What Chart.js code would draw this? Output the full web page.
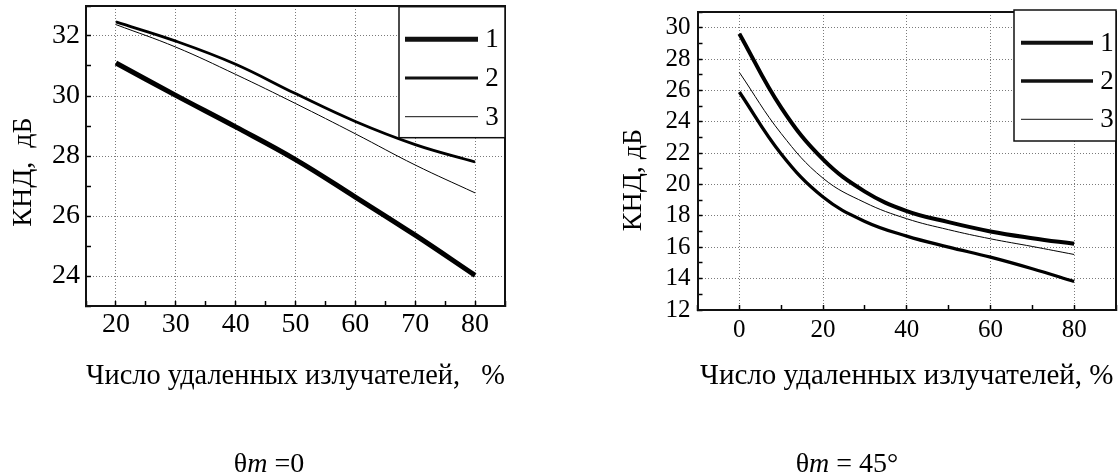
<!DOCTYPE html>
<html>
<head>
<meta charset="utf-8">
<script src="https://cdn.jsdelivr.net/npm/chart.js@4.4.1/dist/chart.umd.min.js"></script>
<style>
  body { margin: 0; background: #fff; }
  #wrap { position: relative; width: 1120px; height: 476px; overflow: hidden; }
  .box { position: absolute; top: 0; width: 560px; height: 476px; }
  .cap {
    position: absolute; top: 447px; line-height: 30px;
    font: 28px "Liberation Serif", "Times New Roman", serif;
    transform: translateX(-50%); white-space: pre; color: #000;
  }
</style>
</head>
<body>
<div id="wrap">
  <div class="box" style="left:0"><canvas id="chartLeft" width="560" height="476"></canvas></div>
  <div class="box" style="left:560px"><canvas id="chartRight" width="560" height="476"></canvas></div>
  <div class="cap" style="left:269px">θ<i>m</i> =0</div>
  <div class="cap" style="left:847px">θ<i>m</i> = 45°</div>
</div>
<script>
const SERIF = '"Liberation Serif", "Times New Roman", serif';

const seriesNames = ['1', '2', '3'];
const xTitle = 'Число удаленных излучателей,';

// θm = 0
const leftX = [20, 30, 40, 50, 60, 70, 80];
const left1 = [31.1, 30.02, 28.97, 27.88, 26.63, 25.36, 24.02];
const left2 = [32.47, 31.83, 31.06, 30.08, 29.15, 28.38, 27.8];
const left3 = [32.38, 31.63, 30.72, 29.75, 28.74, 27.7, 26.77];

// θm = 45°
const rightX = [0, 10, 20, 30, 40, 50, 60, 70, 80];
const right1 = [29.62, 24.9, 21.6, 19.55, 18.31, 17.6, 17.01, 16.58, 16.22];
const right2 = [25.9, 21.95, 19.2, 17.65, 16.71, 16.01, 15.37, 14.63, 13.82];
const right3 = [27.15, 23.25, 20.4, 18.85, 17.82, 17.12, 16.54, 16.05, 15.54];

const isMajor = (v, step) => Math.abs(v / step - Math.round(v / step)) < 1e-6;

// legend in a box in the upper right corner, axis title on the left, closed frame
const framePlugin = {
  id: 'frame',
  afterDraw(chart, args, o) {
    const { ctx, chartArea } = chart;
    ctx.save();
    ctx.strokeStyle = '#111';
    ctx.lineWidth = 2;
    ctx.beginPath();
    ctx.moveTo(chartArea.left, chartArea.top);
    ctx.lineTo(chartArea.right, chartArea.top);
    ctx.lineTo(chartArea.right, chartArea.bottom);
    ctx.stroke();

    const bx = chartArea.right - o.boxWidth;
    const by = chartArea.top + o.boxDy;
    ctx.fillStyle = '#fff';
    ctx.fillRect(bx, by, o.boxWidth, o.boxHeight);
    ctx.lineWidth = 1.5;
    ctx.strokeRect(bx, by, o.boxWidth, o.boxHeight);
    ctx.fillStyle = '#000';
    ctx.font = o.legendFont + 'px ' + SERIF;
    ctx.textAlign = 'center';
    ctx.textBaseline = 'middle';
    chart.data.datasets.forEach((ds, i) => {
      const ly = by + o.first + i * o.gap;
      ctx.beginPath();
      ctx.lineWidth = ds.borderWidth;
      ctx.moveTo(bx + o.lineFrom, ly);
      ctx.lineTo(bx + 79, ly);
      ctx.stroke();
      ctx.fillText(ds.label, bx + 93, ly + 1);
    });

    ctx.translate(o.yTitleX, o.yTitleY);
    ctx.rotate(-Math.PI / 2);
    ctx.font = '28px ' + SERIF;
    ctx.fillText(o.yTitle, 0, 0);
    ctx.restore();
  }
};

// keep the plot box where it is, whatever the tick labels want
function noPadding(s) {
  s.paddingTop = 0;
  s.paddingBottom = 0;
  s.paddingLeft = 0;
  s.paddingRight = 0;
}

function buildChart(id, opt) {
  const datasets = opt.series.map((values, i) => ({
    label: seriesNames[i],
    data: values.map((v, j) => ({ x: opt.xs[j], y: v })),
    borderColor: '#000',
    borderWidth: opt.widths[i],
    pointRadius: 0,
    tension: 0.4,
    fill: false
  }));

  const gridColor = (step) => (c) => isMajor(c.tick.value, step) ? '#7a7a7a' : 'rgba(0,0,0,0)';

  return new Chart(document.getElementById(id), {
    type: 'line',
    data: { datasets },
    plugins: [framePlugin],
    options: {
      responsive: false,
      animation: false,
      layout: { padding: opt.padding },
      plugins: {
        legend: { display: false },
        tooltip: { enabled: false },
        frame: opt.frame
      },
      scales: {
        x: {
          type: 'linear',
          min: opt.xMin, max: opt.xMax,
          afterFit: (s) => { s.height = opt.xHeight; noPadding(s); },
          grid: {
            color: gridColor(opt.xMajor), lineWidth: 1,
            tickLength: -5, tickColor: '#000', tickWidth: 1.5, tickBorderDash: []
          },
          border: { display: true, color: '#111', width: 2, dash: [1, 2] },
          ticks: {
            stepSize: opt.xStep, autoSkip: false, maxRotation: 0,
            padding: opt.xPad, color: '#000',
            font: { family: SERIF, size: opt.tickFont },
            callback: (v) => isMajor(v, opt.xMajor) ? String(v) : ''
          },
          title: {
            display: true, text: opt.xTitle, color: '#000',
            font: { family: SERIF, size: 29 },
            padding: { top: 0, bottom: opt.xTitlePad }
          }
        },
        y: {
          type: 'linear',
          min: opt.yMin, max: opt.yMax,
          afterFit: (s) => { s.width = opt.yWidth; noPadding(s); },
          grid: {
            color: gridColor(2), lineWidth: 1,
            tickLength: -5, tickColor: '#000', tickWidth: 1.5, tickBorderDash: []
          },
          border: { display: true, color: '#111', width: 2, dash: [1, 2] },
          ticks: {
            stepSize: 1, autoSkip: false,
            padding: opt.yPad, color: '#000',
            font: { family: SERIF, size: opt.tickFont },
            callback: (v) => isMajor(v, 2) ? String(v) : ''
          }
        }
      }
    }
  });
}

buildChart('chartLeft', {
  xs: leftX, series: [left1, left2, left3], widths: [5, 2.8, 1],
  xMin: 15, xMax: 85, xStep: 5, xMajor: 10,
  yMin: 23, yMax: 33,
  padding: { left: 0, right: 55, top: 6, bottom: 0 },
  xHeight: 170, yWidth: 86, tickFont: 28,
  xPad: 7, yPad: 11, xTitlePad: 82,
  xTitle: xTitle + '   %',
  frame: {
    boxWidth: 106, boxHeight: 131, boxDy: 0.7, first: 32.6, gap: 38.7, lineFrom: 6,
    legendFont: 27, yTitle: 'КНД,  дБ', yTitleX: 24, yTitleY: 172
  }
});

buildChart('chartRight', {
  xs: rightX, series: [right1, right2, right3], widths: [4, 3.3, 1],
  xMin: -10, xMax: 90, xStep: 10, xMajor: 20,
  yMin: 12, yMax: 31,
  padding: { left: 0, right: 4, top: 12, bottom: 0 },
  xHeight: 166, yWidth: 137.5, tickFont: 25,
  xPad: 10, yPad: 12, xTitlePad: 82,
  xTitle: xTitle + ' %',
  frame: {
    boxWidth: 102, boxHeight: 131, boxDy: -2, first: 32.7, gap: 38.3, lineFrom: 7,
    legendFont: 27, yTitle: 'КНД, дБ', yTitleX: 74, yTitleY: 180
  }
});
</script>
</body>
</html>
